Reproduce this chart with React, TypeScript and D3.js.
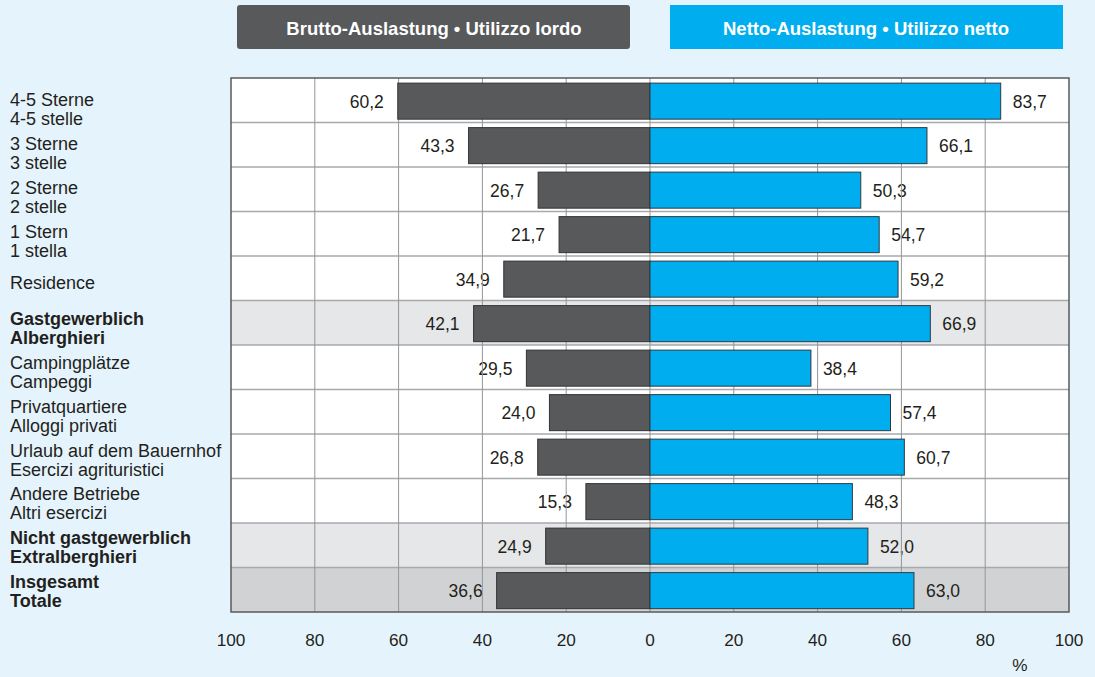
import * as d3 from "d3";

const categories = [
  ["4-5 Sterne", "4-5 stelle"],
  ["3 Sterne", "3 stelle"],
  ["2 Sterne", "2 stelle"],
  ["1 Stern", "1 stella"],
  ["Residence"],
  ["Gastgewerblich", "Alberghieri"],
  ["Campingplätze", "Campeggi"],
  ["Privatquartiere", "Alloggi privati"],
  ["Urlaub auf dem Bauernhof", "Esercizi agrituristici"],
  ["Andere Betriebe", "Altri esercizi"],
  ["Nicht gastgewerblich", "Extralberghieri"],
  ["Insgesamt", "Totale"],
];
const boldRows = [5, 10, 11];
const brutto = [60.2, 43.3, 26.7, 21.7, 34.9, 42.1, 29.5, 24.0, 26.8, 15.3, 24.9, 36.6];
const netto = [83.7, 66.1, 50.3, 54.7, 59.2, 66.9, 38.4, 57.4, 60.7, 48.3, 52.0, 63.0];
const tickValues = [-100, -80, -60, -40, -20, 0, 20, 40, 60, 80, 100];
const legendBrutto = "Brutto-Auslastung • Utilizzo lordo";
const legendNetto = "Netto-Auslastung • Utilizzo netto";

const W = 1095;
const H = 677;
const FONT = "'Liberation Sans', Arial, sans-serif";

export default function App() {
  const x = d3.scaleLinear().domain([-100, 100]).range([231, 1069]);
  const y = d3
    .scaleBand<number>()
    .domain(d3.range(categories.length))
    .range([78, 612]);
  const bw = y.bandwidth();
  const fmt = (v: number) => v.toFixed(1).replace(".", ",");
  const rowFill = (i: number) =>
    i === 11 ? "#d1d2d4" : boldRows.includes(i) ? "#e6e7e8" : "#ffffff";

  return (
    <svg
      width={W}
      height={H}
      style={{ position: "absolute", left: 0, top: 0, background: "#e5f4fc" }}
      fontFamily={FONT}
    >
      {/* legend boxes */}
      <rect x={237} y={5} width={393} height={44} rx={3} fill="#58595b" />
      <text x={434} y={35} textAnchor="middle" fill="#fff" fontSize={18.5} fontWeight="bold">
        {legendBrutto}
      </text>
      <rect x={670} y={5} width={393} height={44} fill="#00aeef" />
      <text x={866} y={35} textAnchor="middle" fill="#fff" fontSize={18.5} fontWeight="bold">
        {legendNetto}
      </text>

      {/* row backgrounds */}
      {categories.map((_, i) => (
        <rect key={"bg" + i} x={x(-100)} y={y(i)} width={x(100) - x(-100)} height={bw} fill={rowFill(i)} />
      ))}

      {/* value labels */}
      {brutto.map((v, i) => (
        <text
          key={"bl" + i}
          x={x(-v) - 14}
          y={(y(i) as number) + bw / 2 + 7.5}
          textAnchor="end"
          fontSize={17.5}
          fill="#231f20"
        >
          {fmt(v)}
        </text>
      ))}
      {netto.map((v, i) => (
        <text
          key={"nl" + i}
          x={x(v) + 12}
          y={(y(i) as number) + bw / 2 + 7.5}
          fontSize={17.5}
          fill="#231f20"
        >
          {fmt(v)}
        </text>
      ))}

      {/* row separators */}
      {categories.slice(1).map((_, j) => (
        <line
          key={"rs" + j}
          x1={x(-100)}
          x2={x(100)}
          y1={y(j + 1)}
          y2={y(j + 1)}
          stroke="#a7a9ac"
          strokeWidth={1.5}
        />
      ))}
      {/* vertical grid */}
      {tickValues.slice(1, -1).map((t) => (
        <line key={"g" + t} x1={x(t)} x2={x(t)} y1={78} y2={612} stroke="#939598" strokeWidth={1} />
      ))}

      {/* bars */}
      {brutto.map((v, i) => (
        <rect
          key={"b" + i}
          x={x(-v)}
          y={(y(i) as number) + bw * 0.115}
          width={x(0) - x(-v)}
          height={bw * 0.81}
          fill="#58595b"
          stroke="#333"
          strokeWidth={1}
        />
      ))}
      {netto.map((v, i) => (
        <rect
          key={"n" + i}
          x={x(0)}
          y={(y(i) as number) + bw * 0.115}
          width={x(v) - x(0)}
          height={bw * 0.81}
          fill="#00aeef"
          stroke="#2b3a44"
          strokeWidth={1}
        />
      ))}

      {/* outer border */}
      <rect x={x(-100)} y={78} width={x(100) - x(-100)} height={534} fill="none" stroke="#58595b" strokeWidth={1.5} />

      {/* category labels */}
      {categories.map((lines, i) => {
        const base = (y(i) as number) + bw / 2 + 6 - i * 0.7;
        const bold = boldRows.includes(i);
        return (
          <text
            key={"c" + i}
            x={10}
            fontSize={18}
            fill="#231f20"
            fontWeight={bold ? "bold" : "normal"}
          >
            {lines.length === 1 ? (
              <tspan x={10} y={base + 7.5}>
                {lines[0]}
              </tspan>
            ) : (
              lines.map((l, k) => (
                <tspan key={k} x={10} y={base + k * 19}>
                  {l}
                </tspan>
              ))
            )}
          </text>
        );
      })}

      {/* x axis ticks */}
      {tickValues.map((t) => (
        <text key={"t" + t} x={x(t)} y={646} textAnchor="middle" fontSize={17.2} fill="#231f20">
          {Math.abs(t)}
        </text>
      ))}
      <text x={1020} y={671} textAnchor="middle" fontSize={17.2} fill="#231f20">
        %
      </text>
    </svg>
  );
}
